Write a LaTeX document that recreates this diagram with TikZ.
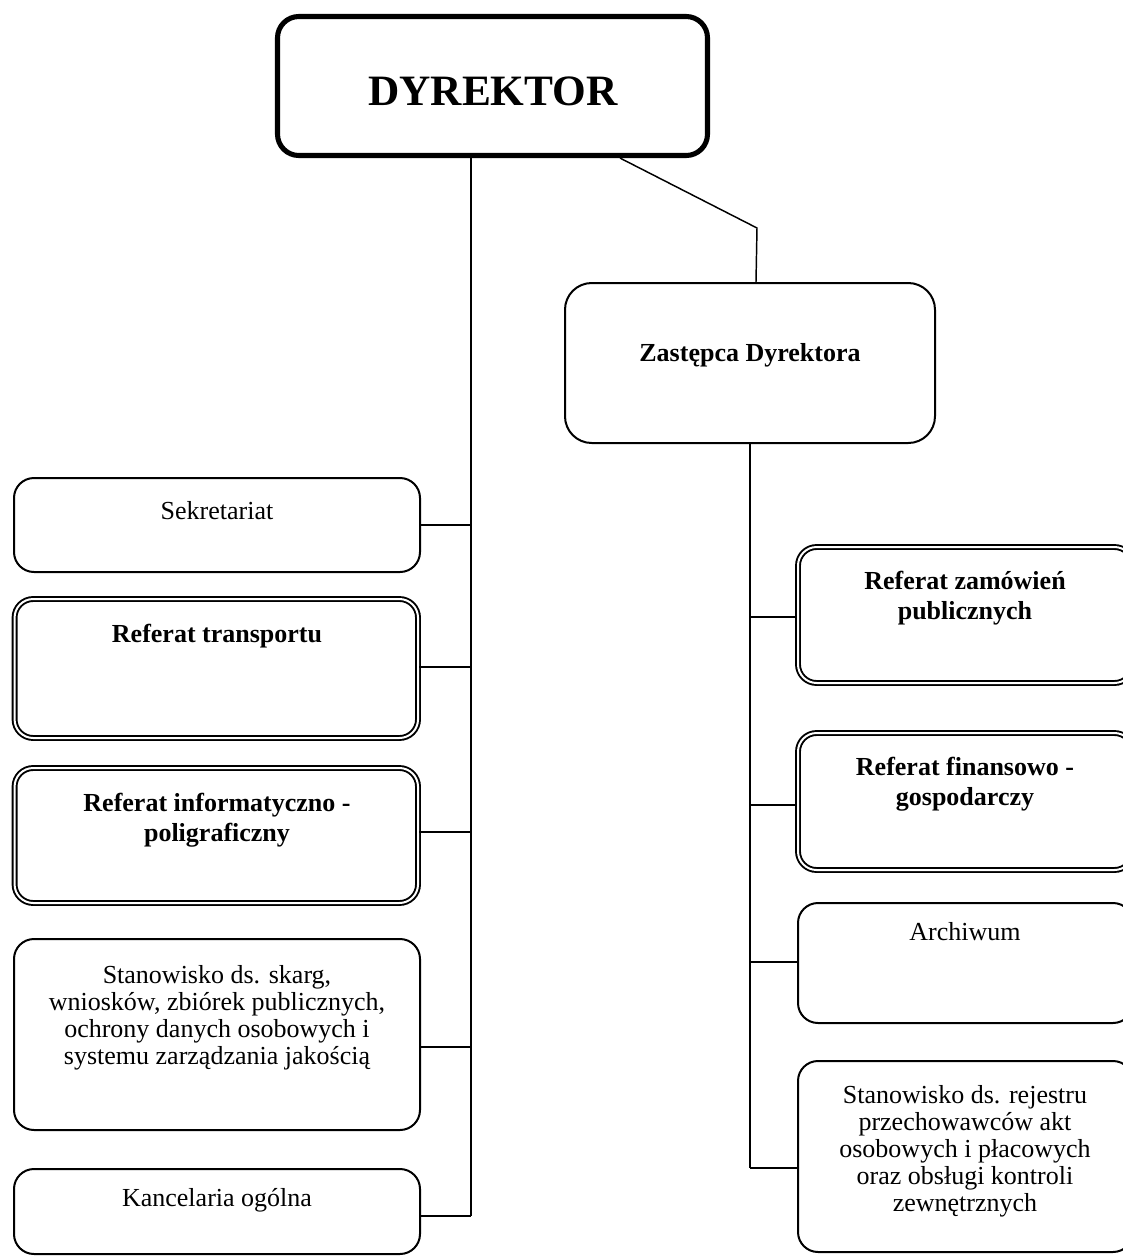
\documentclass[tikz,border=0pt]{standalone}
\usepackage{fontspec}
\setmainfont{Liberation Serif}
\usetikzlibrary{calc}
\begin{document}
\begin{tikzpicture}[x=0.75pt,y=-0.75pt,
  box/.style={draw, line width=1.5pt, rounded corners=15pt, inner sep=0pt},
  dbox/.style={draw, line width=1.45pt, double=white, double distance=1.5pt, rounded corners=14pt, inner sep=0pt},
  lbl/.style={align=center, font=\fontsize{19.5}{20.3}\selectfont, inner sep=0pt},
  blbl/.style={align=center, font=\fontsize{19.5}{22.2}\selectfont\bfseries, inner sep=0pt},
  conn/.style={line width=1.1pt}]
\useasboundingbox (0,0) rectangle (1123,1258);
\clip (0,0) rectangle (1123,1258);

% top
\node[draw, line width=3.8pt, rounded corners=16pt, minimum width=322.5pt, minimum height=104.25pt] (dyr) at (492.5,86) {};
\node[font=\fontsize{32.5}{36}\selectfont\bfseries, inner sep=0pt] (dyrT) at (493,91) {DYREKTOR};
\node[box, rounded corners=20pt, minimum width=277.5pt, minimum height=120pt] (zast) at (750,363) {};
\node[blbl] (zastT) at (750,355) {Zastępca Dyrektora};

% left column
\node[box, minimum width=304.5pt, minimum height=70.5pt] (sek) at (217,525) {};
\node[lbl] (sekT) at (217,511) {Sekretariat};
\node[dbox, minimum width=302.6pt, minimum height=104.25pt] (tra) at (216.3,668.5) {};
\node[blbl] (traT) at (217,636) {Referat transportu};
\node[dbox, minimum width=302.6pt, minimum height=101.25pt] (inf) at (216.3,835.5) {};
\node[blbl] (infT) at (217,820) {Referat informatyczno -\\poligraficzny};
\node[box, minimum width=304.5pt, minimum height=143.25pt] (ska) at (217,1034.5) {};
\node[lbl] (skaT) at (217,1018) {Stanowisko ds. skarg,\\wniosków, zbiórek publicznych,\\ochrony danych osobowych i\\systemu zarządzania jakością};
\node[box, minimum width=304.5pt, minimum height=63.75pt] (kan) at (217,1211.5) {};
\node[lbl] (kanT) at (217,1200) {Kancelaria ogólna};

% right column
\node[dbox, minimum width=251.25pt, minimum height=102pt] (zam) at (965.5,615) {};
\node[blbl] (zamT) at (965,598) {Referat zamówień\\publicznych};
\node[dbox, minimum width=251.25pt, minimum height=102.75pt] (fin) at (965.5,801.5) {};
\node[blbl] (finT) at (965,784) {Referat finansowo -\\gospodarczy};
\node[box, minimum width=251.25pt, minimum height=90pt] (arc) at (965.5,963) {};
\node[lbl] (arcT) at (965,932) {Archiwum};
\node[box, minimum width=251.25pt, minimum height=143.25pt] (rej) at (965.5,1156.5) {};
\node[lbl] (rejT) at (965,1151) {Stanowisko ds. rejestru\\przechowawców akt\\osobowych i płacowych\\oraz obsługi kontroli\\zewnętrznych};

% trunk coordinates
\coordinate (lx) at (471,0);
\coordinate (lend) at (471,1216);
\coordinate (dx) at (620,0);
\coordinate (bend) at (757,228);
\coordinate (zx) at (756,0);
\coordinate (rend) at (750,1168);

\draw[conn] (dyr.south -| lx) -- (lend);
\draw[conn] (dyr.south -| dx) -- (bend) -- (zast.north -| zx);
\draw[conn] (zast.south) -- (rend);

% left connectors
\coordinate (l1) at (471,525);
\coordinate (l2) at (471,667);
\coordinate (l3) at (471,832);
\coordinate (l4) at (471,1047);
\draw[conn] (sek.east |- l1) -- (l1);
\draw[conn] (tra.east |- l2) -- (l2);
\draw[conn] (inf.east |- l3) -- (l3);
\draw[conn] (ska.east |- l4) -- (l4);
\draw[conn] (kan.east |- lend) -- (lend);

% right connectors
\coordinate (r1) at (750,617);
\coordinate (r2) at (750,805);
\coordinate (r3) at (750,962);
\draw[conn] (r1) -- (zam.west |- r1);
\draw[conn] (r2) -- (fin.west |- r2);
\draw[conn] (r3) -- (arc.west |- r3);
\draw[conn] (rend) -- (rej.west |- rend);
\end{tikzpicture}
\end{document}
